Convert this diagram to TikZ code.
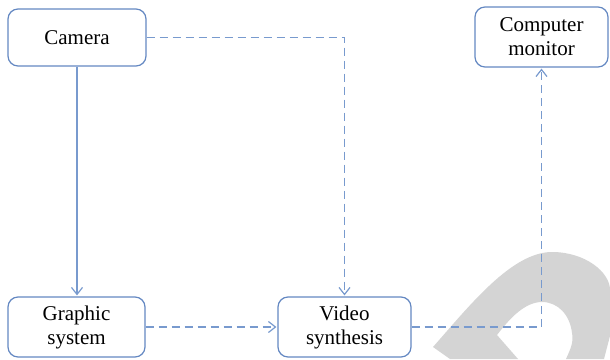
\documentclass[tikz,border=0pt]{standalone}
\usepackage{fontspec}
\setmainfont{Liberation Serif}
\usetikzlibrary{arrows.meta}
\definecolor{boxblue}{RGB}{100,136,194}
\definecolor{lineblue}{RGB}{120,154,206}
\definecolor{markgrey}{RGB}{212,212,212}
\tikzset{
  unitbox/.style={draw=boxblue, line width=1.2pt, rounded corners=10pt, fill=white,
    align=center, inner sep=0pt, font=\fontsize{21}{24}\selectfont},
  flow/.style={draw=lineblue, line width=1.2pt, -{Straight Barb[length=7pt,width=11pt]}, shorten >=1pt},
  dashflow/.style={flow, dash pattern=on 8pt off 5pt},
}
\begin{document}
\begin{tikzpicture}[x=1pt, y=-1pt]
\useasboundingbox (0,0) rectangle (610,359);
% grey emblem in the lower right corner
\fill[markgrey] (450,359) -- (433,347)
  .. controls (470,305) and (512,252) .. (552,252)
  .. controls (585,252) and (610,272) .. (610,290)
  -- (610,336) -- (604,359) -- (566,359)
  .. controls (570,350) and (574,342) .. (572,333)
  .. controls (570,315) and (558,302) .. (542,302)
  .. controls (525,302) and (510,318) .. (497,335)
  -- (518,359) -- cycle;
% blocks
\node[unitbox, minimum width=138pt, minimum height=57pt] (cam) at (77,37.5) {Camera};
\node[unitbox, minimum width=133pt, minimum height=60pt] (mon) at (541.5,37) {Computer\\monitor};
\node[unitbox, minimum width=137pt, minimum height=60pt] (gra) at (76.5,327) {Graphic\\system};
\node[unitbox, minimum width=133pt, minimum height=60pt] (vid) at (344.5,327) {Video\\synthesis};
% connections
\draw[flow] (cam.south) -- (cam.south |- gra.north);
\draw[dashflow] (cam.east) -| (vid.north);
\draw[dashflow] (gra.east) -- (vid.west);
\draw[dashflow] (vid.east) -| (mon.south);
\end{tikzpicture}
\end{document}
